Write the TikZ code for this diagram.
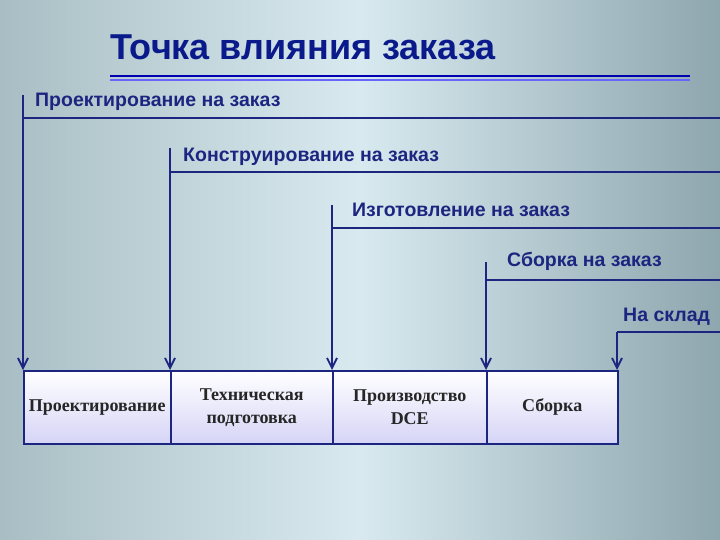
\documentclass[tikz,border=0pt]{standalone}
\usepackage{fontspec}
\setmainfont{Liberation Sans}
\newfontfamily\serifb{Liberation Serif}
\usetikzlibrary{arrows.meta}
\definecolor{ln}{HTML}{1C2580}
\definecolor{tt}{HTML}{0A1A8A}
\definecolor{bgl}{HTML}{A9BEC4}
\definecolor{bgm}{HTML}{D8EAF0}
\definecolor{bgr}{HTML}{8EA6AE}
\definecolor{bx}{HTML}{D6D4F6}
\tikzset{
 lab/.style={anchor=west,font=\bfseries\fontsize{19.5}{22}\selectfont,text=ln,inner sep=0},
 cell/.style={draw=ln,line width=1.5pt,top color=white,bottom color=bx,minimum height=73pt,inner sep=0,font=\serifb\bfseries\fontsize{18}{23}\selectfont,align=center,text=black!85},
 ln/.style={draw=ln,line width=1.8pt},
 arr/.style={ln,-{Straight Barb[length=10pt,width=10pt,line width=1.8pt]}}
}
\begin{document}
\begin{tikzpicture}[x=1pt,y=-1pt]
\shade[left color=bgl,right color=bgr,middle color=bgm] (0,0) rectangle (720,540);
\useasboundingbox (0,0) rectangle (720,540);
\node[anchor=west,inner sep=0,font=\bfseries\fontsize{36}{40}\selectfont,text=tt] (title) at (110,47) {Точка влияния заказа};
\draw[blue!70!black,line width=2.5pt] (110,76) -- (690,76);
\draw[blue!60,line width=1.5pt] (110,80) -- (690,80);
% cells
\node[cell,minimum width=147pt,anchor=north west] (c1) at (23,370) {Проектирование};
\node[cell,minimum width=162pt,anchor=north west] (c2) at (170,370) {Техническая\\подготовка};
\node[cell,minimum width=154pt,anchor=north west] (c3) at (332,370) {Производство\\DCE};
\node[cell,minimum width=131pt,anchor=north west] (c4) at (486,370) {Сборка};
% labels
\node[lab] (l1) at (35,102) {Проектирование на заказ};
\node[lab] (l2) at (183,157) {Конструирование на заказ};
\node[lab] (l3) at (352,210) {Изготовление на заказ};
\node[lab] (l4) at (507,261) {Сборка на заказ};
\node[lab] (l5) at (623,317) {На склад};
\coordinate (e1) at (720,118);
\coordinate (e2) at (720,172);
\coordinate (e3) at (720,228);
\coordinate (e4) at (720,280);
\coordinate (e5) at (720,332);
\coordinate (s1) at (23,118);
\coordinate (s2) at (170,172);
\coordinate (s3) at (332,228);
\coordinate (s4) at (486,280);
\coordinate (s5) at (617,332);
\coordinate (t5) at (617,370);
\draw[ln] (s1) -- (e1); \draw[ln] (s2) -- (e2); \draw[ln] (s3) -- (e3); \draw[ln] (s4) -- (e4); \draw[ln] (s5) -- (e5);
\draw[arr] (23,95) -- (c1.north west);
\draw[arr] (170,148) -- (c2.north west);
\draw[arr] (332,205) -- (c3.north west);
\draw[arr] (486,262) -- (c4.north west);
\draw[arr] (s5) -- (t5);
\end{tikzpicture}
\end{document}
